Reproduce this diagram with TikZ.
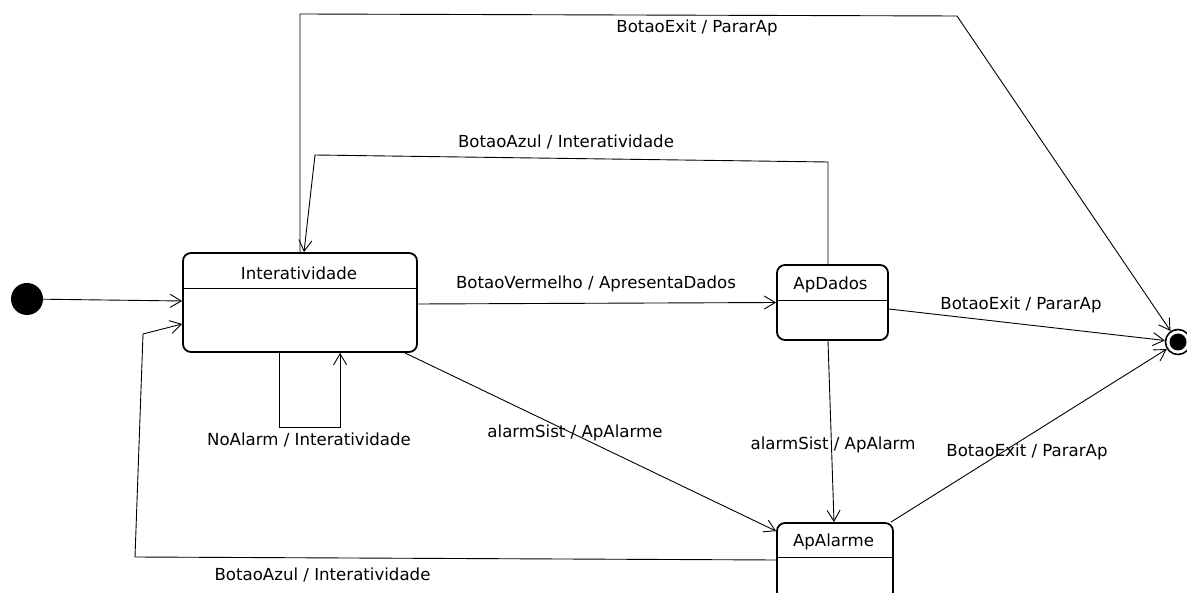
\documentclass[tikz,border=0pt]{standalone}
\usepackage{fontspec}
\setmainfont{DejaVu Sans}
\usetikzlibrary{arrows.meta}
\begin{document}
\begin{tikzpicture}[x=1pt,y=-1pt,
  state/.style={draw,rounded corners=8pt,line width=1.8pt,inner sep=0pt},
  tr/.style={draw,line width=0.9pt,-{Straight Barb[length=11pt,width=13pt,line width=0.9pt]}},
  lbl/.style={font=\fontsize{16.6}{18}\selectfont,inner sep=0pt,anchor=center},
  stname/.style={font=\fontsize{16.6}{18}\selectfont,inner sep=0pt,anchor=center}]
\useasboundingbox (0,0) rectangle (1187,593);

% initial and final pseudo-states
\node[circle,fill=black,minimum size=32pt,inner sep=0pt] (start) at (27,299) {};
\node[circle,draw,line width=1.6pt,minimum size=25pt,inner sep=0pt] (end) at (1178,342) {};
\fill (end.center) circle (8.5pt);

% states with a name compartment
\node[state,minimum width=234pt,minimum height=99pt] (int) at (300,302.5) {};
\draw[line width=0.9pt] (int.west |- 0,288) -- (int.east |- 0,288);
\node[stname] (intname) at (299,273) {Interatividade};

\node[state,minimum width=111pt,minimum height=75pt] (apd) at (832.5,302.5) {};
\draw[line width=0.9pt] (apd.west |- 0,300) -- (apd.east |- 0,300);
\node[stname] (apdname) at (830.5,285) {ApDados};

\node[state,minimum width=116pt,minimum height=82pt] (apa) at (835,564) {};
\draw[line width=0.9pt] (apa.west |- 0,557) -- (apa.east |- 0,557);
\node[stname] (apaname) at (833.5,542) {ApAlarme};

% transitions
\draw[tr] (start) -- ([yshift=1.5pt]int.west);

\draw[tr] ([xshift=97pt]int.south west) -- ++(0,75) -- ++(61,0) -- ([xshift=158pt]int.south west)
  node[lbl] at (309,440) {NoAlarm / Interatividade};

\draw[tr] ([yshift=4pt]apa.west) -- (135,557) -- (143,334) -- ([yshift=-21.5pt]int.west)
  node[lbl] at (322.5,575) {BotaoAzul / Interatividade};

\draw[tr] (int.north) -- (300,14) -- (957,16) -- (end)
  node[lbl] at (697,28) {BotaoExit / PararAp};

\draw[tr] ([xshift=-4.5pt]apd.north) -- (828,162) -- (315,155) -- ([xshift=4pt]int.north)
  node[lbl] at (566,142) {BotaoAzul / Interatividade};

\draw[tr] ([yshift=-1.5pt]int.east) -- (apd.west)
  node[lbl] at (596,284) {BotaoVermelho / ApresentaDados};

\draw[tr] ([yshift=-6.5pt]apd.east) -- (end)
  node[lbl] at (1021,305) {BotaoExit / PararAp};

\draw[tr] ([xshift=-13pt]int.south east) -- ([yshift=-9pt]apa.north west)
  node[lbl] at (575,433) {alarmSist / ApAlarme};

\draw[tr] ([xshift=-4.5pt]apd.south) -- ([xshift=-1pt]apa.north)
  node[lbl] at (833,445) {alarmSist / ApAlarm};

\draw[tr] ([xshift=-3pt]apa.north east) -- (end)
  node[lbl] at (1027,452) {BotaoExit / PararAp};
\end{tikzpicture}
\end{document}
